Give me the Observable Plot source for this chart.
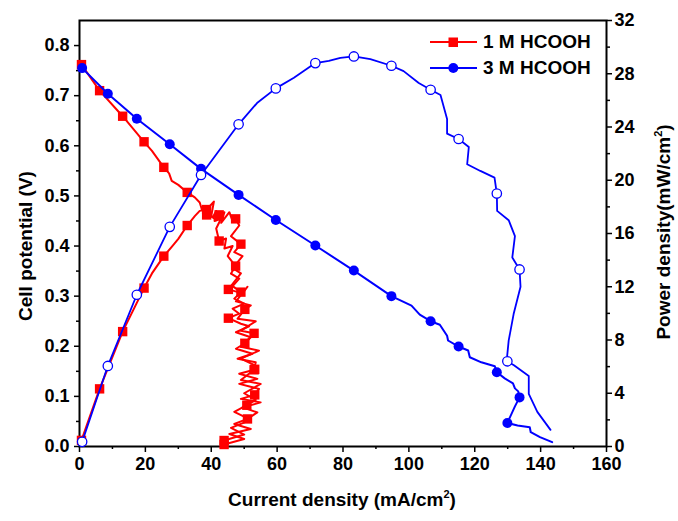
<!DOCTYPE html>
<html><head><meta charset="utf-8">
<script src="https://cdn.jsdelivr.net/npm/d3@7"></script>
<script src="https://cdn.jsdelivr.net/npm/@observablehq/plot@0.6"></script>
<style>
body{margin:0;background:#fff;}
#wrap{position:relative;width:678px;height:521px;font-family:"Liberation Sans",Arial,sans-serif;font-weight:bold;color:#000;overflow:hidden;}
#wrap svg.layer{position:absolute;left:0;top:0;}
.t{position:absolute;white-space:nowrap;line-height:1;}
.ttl{font-size:19px;transform:translate(-50%,-50%);}
.rot{transform:translate(-50%,-50%) rotate(-90deg);}
.sup{font-size:11px;position:relative;top:-8px;}
.legtxt{font-size:19px;}
</style></head><body><div id="wrap"></div>
<script>
// ---------- data ----------
// 1 M HCOOH polarization curve: [current mA/cm2, potential V]
const pol1Line = [[0.6,0.762],[6.1,0.710],[13.1,0.659],[19.6,0.608],[22,0.59],[25.6,0.557],[27.2,0.545],[28,0.53],[30,0.522],[32.7,0.507],[35,0.497],[36.5,0.487],[37.2,0.472],[38.6,0.462],
[40.5,0.458],[41.5,0.47],[41,0.45],[43,0.455],[41.5,0.435],[42.4,0.41],[44.5,0.415],[44,0.395],[46.5,0.40],[45,0.38],[47.4,0.36],[46,0.345],[48.5,0.335],[46.5,0.32],[49,0.308],[47,0.295],[50,0.285],[46.5,0.275],[48.5,0.265],[45.2,0.256],[49,0.245],[51.5,0.24],[47.5,0.228],[52,0.218],[50.2,0.206],[47.5,0.195],[52.5,0.185],[48,0.175],[53.5,0.168],[53,0.153],[48.5,0.145],[54,0.135],[48.5,0.125],[54.5,0.115],[53.2,0.103],[49,0.095],[55,0.088],[49.5,0.078],[54,0.068],[51,0.055],[47,0.045],[52,0.035],[45.5,0.025],[50,0.015],[43.9,0.004]];
const pol1Marks = [[0.6,0.762],[6.1,0.710],[13.1,0.659],[19.6,0.608],[25.6,0.557],[32.7,0.507],[38.6,0.462],[42.4,0.41],[47.4,0.36],[49,0.308],[45.2,0.256],[50.2,0.206],[53,0.153],[53.2,0.103],[51,0.055],[43.9,0.004]];
// 1 M HCOOH power density: [current mA/cm2, power mW/cm2]
const pow1Line = [[0.6,0.46],[6.1,4.33],[13.1,8.63],[19.6,11.9],[22,13.0],[25.6,14.3],[28,15.0],[30,15.6],[32.7,16.6],[35,17.3],[36.5,17.7],[38.6,17.8],
[40.8,18.4],[40,17.3],[41.5,17.0],[42.4,17.4],[44,17.6],[43,16.8],[45.5,17.6],[46.5,16.9],[47.4,17.1],[48.5,16.6],[46,15.8],[49,15.2],[47,14.6],[49.5,14.3],[46.5,13.4],[49,13.0],[45.2,11.8],[49.5,11.5],[51,12.0],[47.5,10.9],[52,10.6],[50.2,10.3],[48,9.6],[53.5,9.4],[49,8.7],[53,8.5],[49,7.5],[54.5,7.2],[49,6.6],[54,6.0],[53.2,5.8],[49,5.0],[55,4.7],[50,4.0],[53.5,3.5],[50.8,3.1],[47,2.6],[52,2.0],[46,1.4],[50,0.9],[43.9,0.45]];
const pow1Marks = [[0.6,0.46],[6.1,4.33],[13.1,8.63],[19.6,11.9],[25.6,14.3],[32.7,16.6],[38.6,17.8],[42.4,17.4],[47.4,17.1],[49,15.2],[45.2,11.8],[50.2,10.3],[53,8.5],[53.2,5.8],[50.8,3.1],[43.9,0.45]];
// 3 M HCOOH polarization curve
const pol3Line = [[0.8,0.755],[8.6,0.704],[17.4,0.654],[27.4,0.603],[36.9,0.554],[48.3,0.502],[59.6,0.452],[71.6,0.401],[83.3,0.351],[94.7,0.300],[100.8,0.281],[103.3,0.263],[106.6,0.25],[109.4,0.243],[111.6,0.221],[111.9,0.2115],[115.1,0.1995],[118,0.1915],[118.5,0.178],[122,0.168],[126.1,0.16],[126.7,0.148],[129.1,0.136],[131.6,0.126],[132.2,0.116],[133.2,0.11],[133.6,0.098],[132.2,0.080],[129.9,0.047],[133,0.042],[136.7,0.0385],[137,0.0285],[139.8,0.0186],[143.5,0.0086]];
const pol3Marks = [[0.8,0.755],[8.6,0.704],[17.4,0.654],[27.4,0.603],[36.9,0.554],[48.3,0.502],[59.6,0.452],[71.6,0.401],[83.3,0.351],[94.7,0.300],[106.6,0.25],[115.1,0.1995],[126.7,0.148],[133.6,0.098],[129.9,0.047]];
// 3 M HCOOH power density
const pow3Line = [[0.8,0.35],[8.6,6.05],[17.4,11.4],[27.4,16.5],[36.9,20.4],[48.3,24.2],[53.9,25.8],[59.6,26.9],[65.1,27.7],[71.6,28.8],[75.7,28.96],[79.2,29.2],[83.3,29.3],[88.3,29.1],[94.7,28.6],[98.4,28.2],[103,27.3],[106.6,26.8],[109.6,26.4],[111.6,24.6],[111.6,23.5],[115.1,23.1],[118.2,22.5],[117.7,21.2],[121.7,20.7],[126,20.2],[126.7,19.0],[126.8,17.7],[130.3,17.0],[132.2,15.8],[131.4,14.2],[133.6,13.3],[133.9,12.0],[131.8,9.95],[130.3,7.95],[129.8,6.7],[129.9,6.4],[131.9,6.1],[136.4,5.3],[136.4,3.95],[139,2.6],[143,1.25]];
const pow3Marks = [[0.8,0.35],[8.6,6.05],[17.4,11.4],[27.4,16.5],[36.9,20.4],[48.3,24.2],[59.6,26.9],[71.6,28.8],[83.3,29.3],[94.7,28.6],[106.6,26.8],[115.1,23.1],[126.7,19.0],[133.6,13.3],[129.9,6.4]];
// ticks
const currentTicks = [0,20,40,60,80,100,120,140,160];
const currentMinor = [10,30,50,70,90,110,130,150];
const potentialTicks = [0,0.1,0.2,0.3,0.4,0.5,0.6,0.7,0.8];
const potentialMinor = [0.05,0.15,0.25,0.35,0.45,0.55,0.65,0.75];
const powerTicks = [0,4,8,12,16,20,24,28,32];
const powerMinor = [2,6,10,14,18,22,26,30];
const legendItems = ["1 M HCOOH","3 M HCOOH"];

// ---------- drawing ----------
const RED = "#ff0000", BLUE = "#0000ff";
const wrap = document.getElementById("wrap");
const base = {width:678,height:521,marginLeft:79,marginRight:72,marginTop:20,marginBottom:75,
  style:{background:"none",fontFamily:"'Liberation Sans',Arial,sans-serif",fontSize:"18px",fontWeight:"bold",color:"#000",overflow:"visible"}};
function layer(yDomain, marks, hasX, hasY){
  const p = Plot.plot({...base,
    x:{domain:[0,160], ...(hasX?{}:{axis:null})},
    y:{domain:yDomain, ...(hasY?{}:{axis:null})},
    marks});
  p.classList.add("layer");
  wrap.appendChild(p);
}
const X = d=>d[0], Y = d=>d[1];
// layer 1: frame, axes, 1 M polarization
layer([0,0.85],[
  Plot.axisX({ticks:currentTicks,tickSize:6,tickPadding:5,label:null,strokeWidth:1.5}),
  Plot.axisX({ticks:currentMinor,tickSize:3,tickFormat:()=>"",label:null,strokeWidth:1.5}),
  Plot.axisY({anchor:"left",ticks:potentialTicks,tickSize:5,tickPadding:5,tickFormat:d3.format(".1f"),label:null,strokeWidth:1.5}),
  Plot.axisY({anchor:"left",ticks:potentialMinor,tickSize:3,tickFormat:()=>"",label:null,strokeWidth:1.5}),
  Plot.frame({stroke:"#000",strokeWidth:2}),
  Plot.line(pol1Line,{x:X,y:Y,stroke:RED,strokeWidth:2}),
  Plot.dot(pol1Marks,{x:X,y:Y,symbol:"square",r:5.3,fill:RED})
], true, true);
// layer 2: 3 M polarization
layer([0,0.85],[
  Plot.line(pol3Line,{x:X,y:Y,stroke:BLUE,strokeWidth:2}),
  Plot.dot(pol3Marks,{x:X,y:Y,r:5,fill:BLUE})
], false, false);
// layer 3: right axis + 1 M power
layer([0,32],[
  Plot.axisY({anchor:"right",ticks:powerTicks,tickSize:5,tickPadding:3,label:null,strokeWidth:1.5}),
  Plot.axisY({anchor:"right",ticks:powerMinor,tickSize:3,tickFormat:()=>"",label:null,strokeWidth:1.5}),
  Plot.line(pow1Line,{x:X,y:Y,stroke:RED,strokeWidth:2}),
  Plot.dot(pow1Marks,{x:X,y:Y,symbol:"square",r:5.3,fill:RED})
], false, true);
// layer 4: 3 M power
layer([0,32],[
  Plot.line(pow3Line,{x:X,y:Y,stroke:BLUE,strokeWidth:1.8}),
  Plot.dot(pow3Marks,{x:X,y:Y,r:4.7,fill:"white",stroke:BLUE,strokeWidth:1.3})
], false, false);

// axis titles
function addText(html, cls, x, y){
  const d=document.createElement("div"); d.className="t "+cls; d.innerHTML=html;
  d.style.left=x+"px"; d.style.top=y+"px"; wrap.appendChild(d); return d;
}
addText('Current density (mA/cm<span class="sup">2</span>)',"ttl",342,499);
addText('Cell potential (V)',"ttl rot",25,246);
addText('Power density(mW/cm<span class="sup">2</span>)',"ttl rot",663,232);

// legend
const legColors=[RED,BLUE], legY=[42,68];
legendItems.forEach((name,i)=>{
  const s=document.createElementNS("http://www.w3.org/2000/svg","svg");
  s.setAttribute("width",50); s.setAttribute("height",20);
  s.style.position="absolute"; s.style.left="430px"; s.style.top=(legY[i]-10)+"px";
  const c=legColors[i];
  s.innerHTML=`<line x1="0" y1="10" x2="47" y2="10" stroke="${c}" stroke-width="2"/>`+
   (i===0?`<rect x="18.5" y="5.5" width="9.5" height="9.5" fill="${c}"/>`:`<circle cx="23.3" cy="10" r="5" fill="${c}"/>`);
  wrap.appendChild(s);
  addText(name,"legtxt",483,legY[i]-10);
});
</script></body></html>
